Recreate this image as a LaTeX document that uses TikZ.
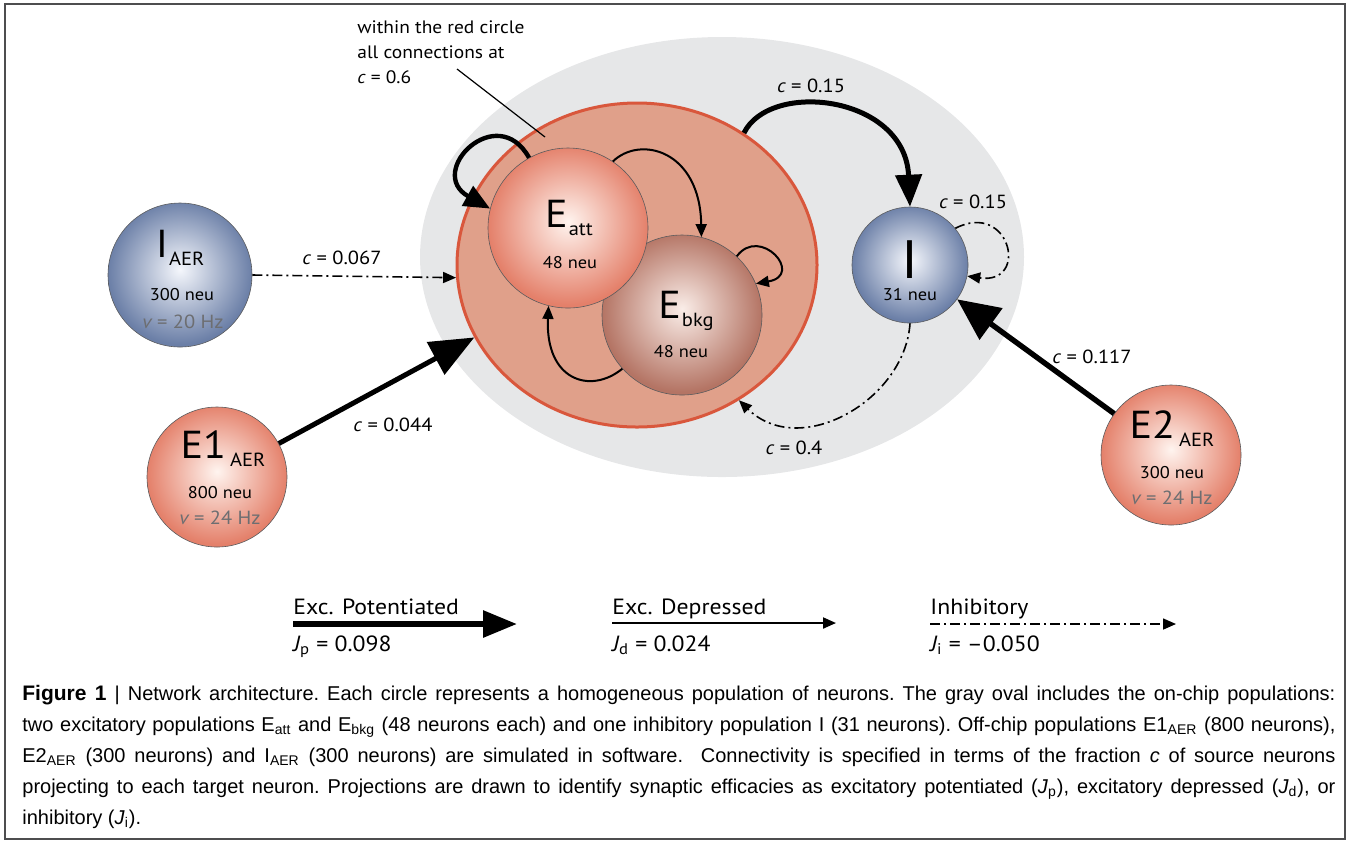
\documentclass[tikz,border=0pt]{standalone}
\usepackage{fontspec}
\setmainfont{PT Sans}[FakeStretch=1.08]
\newfontfamily\capfont{Liberation Sans}
\usetikzlibrary{arrows.meta,positioning,shapes.geometric}

\definecolor{chipgray}{HTML}{E6E7E8}
\definecolor{redfill}{HTML}{E0A08A}
\definecolor{redline}{HTML}{D9573C}
\definecolor{excedge}{HTML}{E4806A}
\definecolor{exccore}{HTML}{FFF4EF}
\definecolor{bkgedge}{HTML}{B47464}
\definecolor{bkgcore}{HTML}{FAEDE8}
\definecolor{inhedge}{HTML}{6B7FA7}
\definecolor{inhcore}{HTML}{F5F7FC}
\definecolor{rimgray}{HTML}{5A5B5D}
\definecolor{ratetxt}{HTML}{6D6E71}
\definecolor{framegray}{HTML}{4D4D4F}

\pgfdeclareradialshading{excball}{\pgfpoint{0bp}{2bp}}{color(0bp)=(exccore); color(25bp)=(excedge); color(50bp)=(excedge)}
\pgfdeclareradialshading{bkgball}{\pgfpoint{0bp}{2bp}}{color(0bp)=(bkgcore); color(25bp)=(bkgedge); color(50bp)=(bkgedge)}
\pgfdeclareradialshading{inhball}{\pgfpoint{0bp}{2bp}}{color(0bp)=(inhcore); color(25bp)=(inhedge); color(50bp)=(inhedge)}

\newcommand\popname[2]{{\fontsize{19.5}{20}\selectfont #1}\kern0.5pt\raisebox{-4pt}{\fontsize{9.5}{10}\selectfont #2}}

\tikzset{
	ball/.style={circle, draw=rimgray, line width=0.3pt, inner sep=0pt, shade},
	excpop/.style={ball, shading=excball},
	bkgpop/.style={ball, shading=bkgball},
	inhpop/.style={ball, shading=inhball},
	popname/.style={inner sep=0pt, anchor=base},
	count/.style={inner sep=0pt, font=\fontsize{8.5}{10}\selectfont},
	rate/.style={inner sep=0pt, text=ratetxt, font=\fontsize{9.5}{11}\selectfont},
	clabel/.style={inner sep=0pt, font=\fontsize{9.5}{11}\selectfont},
	legtxt/.style={inner sep=0pt, anchor=base west, font=\fontsize{11}{12}\selectfont},
	thin/.style={line width=1pt, -{Triangle[length=6.5pt,width=5.5pt]}},
	inh/.style={line width=0.8pt, dash pattern=on 5pt off 2pt on 1pt off 2pt,
		-{Triangle[length=6.5pt,width=5.5pt]}}
}

\begin{document}
\begin{tikzpicture}[x=0.5pt, y=-0.5pt]
	\useasboundingbox (0,0) rectangle (1358,843);
	\draw[framegray, line width=1pt] (5,4) rectangle (1345,839);

	% on-chip oval and red circle
	\node[ellipse, fill=chipgray, minimum width=302pt, minimum height=220pt, inner sep=0pt] (chip) at (722,257) {};
	\node[ellipse, fill=redfill, draw=redline, line width=1.5pt, minimum width=180pt, minimum height=162pt, inner sep=0pt] (red) at (637,265) {};

	\node[anchor=north west, align=left, inner sep=0pt, font=\fontsize{9}{12.5}\selectfont] (note) at (357,20)
		{within the red circle\\ all connections at\\ {\itshape c} = 0.6};
	\coordinate (noteFrom) at (457,69);
	\coordinate (noteTo) at (545,137);
	\draw[line width=0.6pt] (noteFrom) -- (noteTo);

	% populations
	\node[bkgpop, minimum size=80pt] (Ebkg) at (682,315) {};
	\node[excpop, minimum size=80pt] (Eatt) at (568,228) {};
	\node[inhpop, minimum size=58pt] (Ipop) at (910,265) {};
	\node[inhpop, minimum size=72pt] (IAER) at (180,275) {};
	\node[excpop, minimum size=70pt] (E1AER) at (217,477) {};
	\node[excpop, minimum size=70pt] (E2AER) at (1171,455) {};

	\node[popname] (EattName) at (569,227) {\popname{E}{att}};
	\node[count] (EattN) at (570,263) {48 neu};
	\node[popname] (EbkgName) at (686,318) {\popname{E}{bkg}};
	\node[count] (EbkgN) at (681,352) {48 neu};
	\node[popname, font=\fontsize{27}{28}\selectfont] (IpopName) at (910,278) {I};
	\node[count] (IpopN) at (910,295) {31 neu};
	\node[popname] (IAERName) at (180,257) {\popname{I}{AER}};
	\node[count] (IAERN) at (182,295) {300 neu};
	\node[rate] (IAERRate) at (183,322) {{\itshape v} = 20 Hz};
	\node[popname] (E1AERName) at (223,458) {\popname{E1}{\kern1.5pt AER}};
	\node[count] (E1AERN) at (220,493) {800 neu};
	\node[rate] (E1AERRate) at (220,518) {{\itshape v} = 24 Hz};
	\node[popname] (E2AERName) at (1172,438) {\popname{E2}{\kern1.5pt AER}};
	\node[count] (E2AERN) at (1172,473) {300 neu};
	\node[rate] (E2AERRate) at (1172,498) {{\itshape v} = 24 Hz};

	% projections
	\draw[inh] (IAER.east) -- (red.184.5);
	\draw[line width=2.5pt, -{Triangle[length=22pt,width=18pt]}] (E1AER) -- (red.204);
	\draw[line width=2.7pt, -{Triangle[length=21pt,width=19pt]}] (E2AER) -- (Ipop);
	\draw[line width=2.5pt, -{Triangle[length=16pt,width=13pt]}] (red.51) .. controls (770,80) and (905,95) .. (Ipop.north);
	\draw[inh] (Ipop.south) .. controls (905,400) and (800,460) .. (red.-53);
	\draw[inh] (Ipop.39) .. controls (1010,200) and (1030,285) .. (Ipop.-11);
	\draw[line width=2.2pt, -{Triangle[length=13pt,width=11pt]}] (Eatt.119) .. controls (497,100) and (425,172) .. (Eatt.166);
	\draw[thin] (Eatt.56) .. controls (640,135) and (700,150) .. (Ebkg.76);
	\draw[thin] (Ebkg.47) .. controls (760,225) and (805,275) .. (Ebkg.23);
	\draw[thin] (Ebkg.222) .. controls (590,395) and (545,380) .. (Eatt.256);

	\node[clabel] (c067) at (342,258) {{\itshape c} = 0.067};
	\node[clabel] (c044) at (393,425) {{\itshape c} = 0.044};
	\node[clabel] (c117) at (1092,357) {{\itshape c} = 0.117};
	\node[clabel] (c015top) at (811,86) {{\itshape c} = 0.15};
	\node[clabel] (c015self) at (973,202) {{\itshape c} = 0.15};
	\node[clabel] (c04) at (794,448) {{\itshape c} = 0.4};

	% legend
	\node[legtxt] (potLbl) at (293,614) {Exc. Potentiated};
	\node[legtxt] (potVal) at (293,651) {{\itshape J}\textsubscript{p} = 0.098};
	\coordinate (potFrom) at (293,624);
	\coordinate (potTo) at (517,624);
	\draw[line width=3pt, -{Triangle[length=17pt,width=13pt]}] (potFrom) -- (potTo);

	\node[legtxt] (depLbl) at (612,614) {Exc. Depressed};
	\node[legtxt] (depVal) at (612,651) {{\itshape J}\textsubscript{d} = 0.024};
	\coordinate (depFrom) at (612,623);
	\coordinate (depTo) at (836,623);
	\draw[thin] (depFrom) -- (depTo);

	\node[legtxt] (inhLbl) at (930,614) {Inhibitory};
	\node[legtxt] (inhVal) at (930,651) {{\itshape J}\textsubscript{i} = –0.050};
	\coordinate (inhFrom) at (930,624);
	\coordinate (inhTo) at (1176,624);
	\draw[inh] (inhFrom) -- (inhTo);

	% caption
	\node[anchor=north west, text width=656.5pt, align=justify, inner sep=0pt,
		font=\capfont\fontsize{10}{15.5}\selectfont\frenchspacing] (caption) at (22,685)
	{{\bfseries\fontsize{10.5}{15.5}\selectfont Figure 1} | Network architecture. Each circle represents a homogeneous population of neurons. The gray oval includes the on-chip populations:\linebreak
	two excitatory populations E\textsubscript{att} and E\textsubscript{bkg} (48 neurons each) and one inhibitory population I (31 neurons). Off-chip populations E1\textsubscript{AER} (800 neurons),\linebreak
	E2\textsubscript{AER} (300 neurons) and I\textsubscript{AER} (300 neurons) are simulated in software.\ \ Connectivity is specified in terms of the fraction \textit{c} of source neurons\linebreak
	projecting to each target neuron. Projections are drawn to identify synaptic efficacies as excitatory potentiated (\textit{J}\textsubscript{p}), excitatory depressed (\textit{J}\textsubscript{d}), or\linebreak
	inhibitory (\textit{J}\textsubscript{i}).};
\end{tikzpicture}
\end{document}
